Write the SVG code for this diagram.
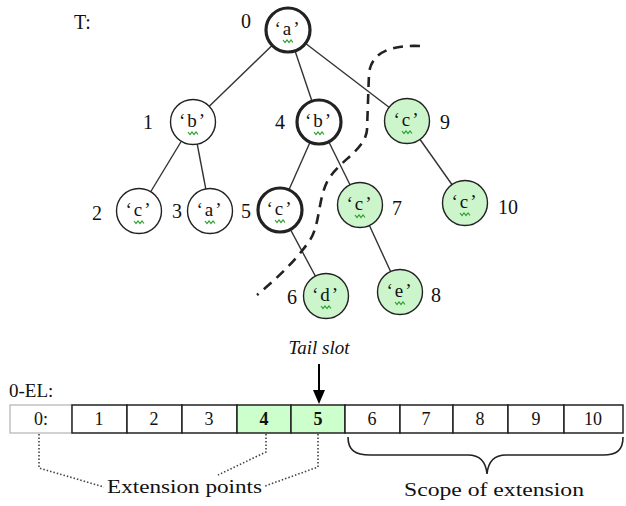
<svg xmlns="http://www.w3.org/2000/svg" width="626" height="506" viewBox="0 0 626 506">
  <style>
    .lbl { font-family: "Liberation Serif", "Times New Roman", serif; font-size: 20px; fill: #111; }
    .ch { font-family: "Liberation Serif", "Times New Roman", serif; font-size: 19px; fill: #111; text-anchor: middle; letter-spacing: 2px; }
    .node { fill: #fff; stroke: #222; stroke-width: 1.4; }
    .node.thick { stroke-width: 3.2; }
    .node.green { fill: #ccf5cc; }
    .sq { fill: none; stroke: #2aa02a; stroke-width: 1.2; }
    .edge { stroke: #333; stroke-width: 1.4; }
    .cell { fill: #fff; stroke: #222; stroke-width: 1.5; }
    .cell.green { fill: #ccffcc; }
    .ctext { font-family: "Liberation Serif", "Times New Roman", serif; font-size: 18px; fill: #111; text-anchor: middle; }
    .dot { fill: none; stroke: #444; stroke-width: 1.6; stroke-dasharray: 1.5 2; }
    .txt { font-family: "Liberation Serif", "Times New Roman", serif; font-size: 19px; fill: #111; }
  </style>
  <defs>
    <g id="squig"><path class="sq" d="M-5,10 l2,2.5 l2,-2.5 l2,2.5 l2,-2.5 l2,2.5"/></g>
  </defs>

  <rect width="626" height="506" fill="#fff"/>

  <text class="lbl" x="74" y="29">T:</text>

  <!-- tree edges -->
  <g id="connectors">
    <line class="edge" x1="288" y1="30" x2="193" y2="122"/>
    <line class="edge" x1="288" y1="30" x2="319" y2="122"/>
    <line class="edge" x1="288" y1="30" x2="407" y2="121"/>
    <line class="edge" x1="193" y1="122" x2="139" y2="211"/>
    <line class="edge" x1="193" y1="122" x2="210" y2="211"/>
    <line class="edge" x1="319" y1="122" x2="280" y2="210"/>
    <line class="edge" x1="319" y1="122" x2="360" y2="205"/>
    <line class="edge" x1="280" y1="210" x2="326" y2="296"/>
    <line class="edge" x1="360" y1="205" x2="400" y2="292"/>
    <line class="edge" x1="407" y1="121" x2="465" y2="203"/>
  </g>

  <!-- cut line separating the extension scope -->
  <path d="M420,46 C395,45 372,50 369,73 L367,130 C365,150 340,160 328,180 C318,198 320,225 310,240 C295,262 275,280 257,295" fill="none" stroke="#222" stroke-width="2.6" stroke-dasharray="10 7"/>

  <!-- tree nodes -->
  <g id="n0" transform="translate(288,30)">
    <circle class="node thick" r="22"/>
    <text class="ch" y="5">‘a’</text><use href="#squig"/>
    <text class="lbl" x="-47" y="-2">0</text>
  </g>
  <g id="n1" transform="translate(193,122)">
    <circle class="node" r="22.5"/>
    <text class="ch" y="5">‘b’</text><use href="#squig"/>
    <text class="lbl" x="-50" y="7">1</text>
  </g>
  <g id="n4" transform="translate(319,122)">
    <circle class="node thick" r="22"/>
    <text class="ch" y="5">‘b’</text><use href="#squig"/>
    <text class="lbl" x="-44" y="7">4</text>
  </g>
  <g id="n9" transform="translate(407,121)">
    <circle class="node green" r="22.5"/>
    <text class="ch" y="5">‘c’</text><use href="#squig"/>
    <text class="lbl" x="33" y="8">9</text>
  </g>
  <g id="n2" transform="translate(139,211)">
    <circle class="node" r="22.5"/>
    <text class="ch" y="5">‘c’</text><use href="#squig"/>
    <text class="lbl" x="-47" y="9">2</text>
  </g>
  <g id="n3" transform="translate(210,211)">
    <circle class="node" r="22.5"/>
    <text class="ch" y="5">‘a’</text><use href="#squig"/>
    <text class="lbl" x="-38" y="7">3</text>
  </g>
  <g id="n5" transform="translate(280,210)">
    <circle class="node thick" r="22"/>
    <text class="ch" y="5">‘c’</text><use href="#squig"/>
    <text class="lbl" x="-39" y="8">5</text>
  </g>
  <g id="n7" transform="translate(360,205)">
    <circle class="node green" r="22.5"/>
    <text class="ch" y="5">‘c’</text><use href="#squig"/>
    <text class="lbl" x="32" y="10">7</text>
  </g>
  <g id="n10" transform="translate(465,203)">
    <circle class="node green" r="22.5"/>
    <text class="ch" y="5">‘c’</text><use href="#squig"/>
    <text class="lbl" x="33" y="11">10</text>
  </g>
  <g id="n6" transform="translate(326,296)">
    <circle class="node green" r="22.5"/>
    <text class="ch" y="5">‘d’</text><use href="#squig"/>
    <text class="lbl" x="-39" y="8">6</text>
  </g>
  <g id="n8" transform="translate(400,292)">
    <circle class="node green" r="22.5"/>
    <text class="ch" y="5">‘e’</text><use href="#squig"/>
    <text class="lbl" x="31" y="10">8</text>
  </g>

  <!-- tail slot pointer -->
  <text x="319" y="354" text-anchor="middle" style="font-family:'Liberation Serif','Times New Roman',serif;font-size:19px;font-style:italic;fill:#111">Tail slot</text>
  <line x1="319" y1="364" x2="319" y2="392" stroke="#000" stroke-width="2"/>
  <path d="M313,390 L325,390 L319,404 z" fill="#000"/>

  <!-- 0-EL array -->
  <text class="txt" x="9" y="397">0-EL:</text>
  <g id="array">
    <rect x="10" y="405" width="62" height="28" fill="#fff" stroke="#b8b8b8" stroke-width="1.3"/>
    <text class="ctext" x="41" y="425">0:</text>
    <rect class="cell" x="72" y="405" width="55" height="28"/>
    <rect class="cell" x="127" y="405" width="55" height="28"/>
    <rect class="cell" x="182" y="405" width="55" height="28"/>
    <rect class="cell green" x="237" y="405" width="54" height="28"/>
    <rect class="cell green" x="291" y="405" width="54" height="28"/>
    <rect class="cell" x="345" y="405" width="55" height="28"/>
    <rect class="cell" x="400" y="405" width="53" height="28"/>
    <rect class="cell" x="453" y="405" width="55" height="28"/>
    <rect class="cell" x="508" y="405" width="56" height="28"/>
    <rect class="cell" x="564" y="405" width="59" height="28"/>
    <text class="ctext" x="99" y="425">1</text>
    <text class="ctext" x="154" y="425">2</text>
    <text class="ctext" x="209" y="425">3</text>
    <text class="ctext" x="264" y="425" font-weight="bold">4</text>
    <text class="ctext" x="318" y="425" font-weight="bold">5</text>
    <text class="ctext" x="372" y="425">6</text>
    <text class="ctext" x="426" y="425">7</text>
    <text class="ctext" x="480" y="425">8</text>
    <text class="ctext" x="536" y="425">9</text>
    <text class="ctext" x="593" y="425">10</text>
  </g>

  <!-- extension point leaders -->
  <path class="dot" d="M39,434 L39,468 L104,487"/>
  <path class="dot" d="M266,434 L266,452 L218,475"/>
  <path class="dot" d="M318,434 L318,467 L265,486"/>
  <text class="txt" x="107" y="493" textLength="155" lengthAdjust="spacingAndGlyphs">Extension points</text>

  <!-- scope brace -->
  <path d="M348,437 C348,450 355,455 370,455 L468,455 C481,455 486,463 487,474 C488,463 493,455 506,455 L603,455 C617,455 623,450 623,437" fill="none" stroke="#222" stroke-width="1.6"/>
  <text class="txt" x="404" y="496" textLength="180" lengthAdjust="spacingAndGlyphs">Scope of extension</text>
</svg>
